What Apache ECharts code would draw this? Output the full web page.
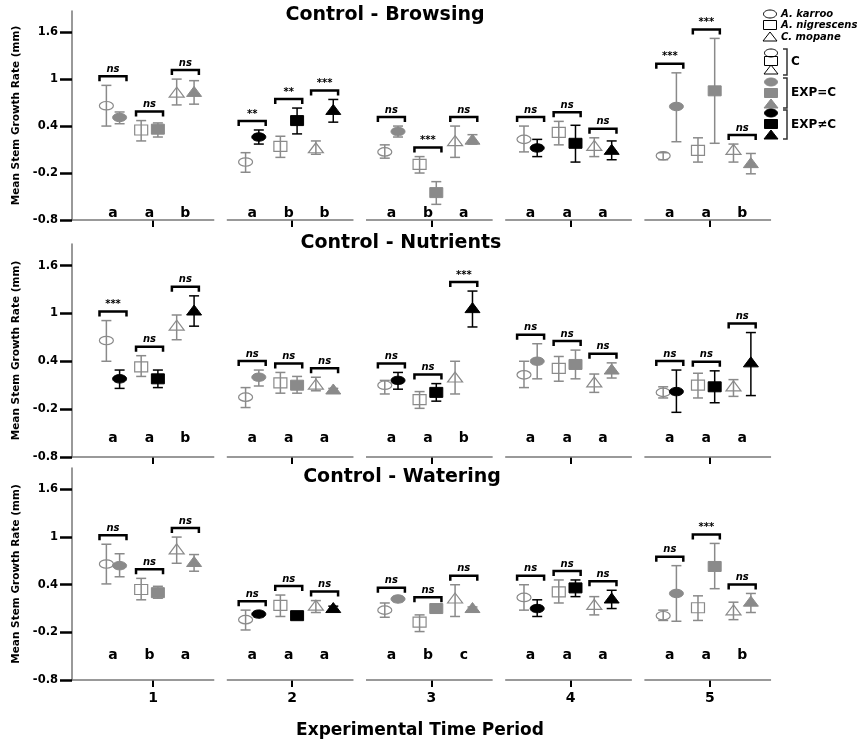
<!DOCTYPE html>
<html>
<head>
<meta charset="utf-8">
<script src="https://cdn.jsdelivr.net/npm/echarts@6/dist/echarts.min.js"></script>
<style>
  html, body { margin: 0; padding: 0; background: #fff; }
  #chart { width: 865px; height: 740px; }
</style>
</head>
<body>
<div id="chart"></div>
<script>
// ---- data ----
const periods = [1, 2, 3, 4, 5];
const speciesNames = ['A. karroo', 'A. nigrescens', 'C. mopane'];
const yTicks = [-0.8, -0.2, 0.4, 1, 1.6];

// Control - Browsing  (rows = period, cols = species)
const browsingCtrlMean = [[0.66, 0.35, 0.82], [-0.06, 0.14, 0.11], [0.07, -0.09, 0.20], [0.23, 0.32, 0.14], [0.02, 0.09, 0.09]];
const browsingCtrlHigh = [[0.92, 0.47, 1.00], [0.06, 0.27, 0.21], [0.16, 0.01, 0.40], [0.40, 0.46, 0.25], [0.06, 0.25, 0.17]];
const browsingCtrlLow = [[0.40, 0.21, 0.67], [-0.19, 0.00, 0.04], [-0.01, -0.20, 0.00], [0.07, 0.16, 0.01], [-0.03, -0.06, -0.06]];
const browsingExpMean = [[0.51, 0.36, 0.83], [0.26, 0.47, 0.60], [0.33, -0.45, 0.22], [0.12, 0.18, 0.09], [0.65, 0.85, -0.08]];
const browsingExpHigh = [[0.58, 0.44, 0.98], [0.35, 0.63, 0.74], [0.40, -0.31, 0.29], [0.23, 0.41, 0.21], [1.08, 1.52, 0.05]];
const browsingExpLow = [[0.43, 0.26, 0.68], [0.17, 0.30, 0.45], [0.26, -0.60, 0.17], [0.01, -0.06, -0.03], [0.20, 0.18, -0.21]];
const browsingSig = [['ns', 'ns', 'ns'], ['**', '**', '***'], ['ns', '***', 'ns'], ['ns', 'ns', 'ns'], ['***', '***', 'ns']];
const browsingLetters = [['a', 'a', 'b'], ['a', 'b', 'b'], ['a', 'b', 'a'], ['a', 'a', 'a'], ['a', 'a', 'b']];
const browsingExpEqualC = [true, false, true, false, true];

// Control - Nutrients
const nutrientsCtrlMean = [[0.66, 0.33, 0.84], [-0.05, 0.13, 0.10], [0.10, -0.08, 0.19], [0.23, 0.31, 0.13], [0.01, 0.10, 0.08]];
const nutrientsCtrlHigh = [[0.91, 0.47, 0.98], [0.07, 0.26, 0.20], [0.16, 0.02, 0.40], [0.40, 0.46, 0.24], [0.08, 0.25, 0.17]];
const nutrientsCtrlLow = [[0.40, 0.21, 0.67], [-0.18, 0.00, 0.03], [-0.01, -0.19, -0.01], [0.07, 0.15, 0.01], [-0.06, -0.06, -0.04]];
const nutrientsExpMean = [[0.18, 0.18, 1.03], [0.20, 0.10, 0.04], [0.16, 0.01, 1.06], [0.40, 0.36, 0.29], [0.02, 0.08, 0.38]];
const nutrientsExpHigh = [[0.29, 0.29, 1.22], [0.29, 0.21, 0.06], [0.26, 0.12, 1.28], [0.62, 0.54, 0.38], [0.29, 0.28, 0.76]];
const nutrientsExpLow = [[0.06, 0.07, 0.84], [0.09, 0.00, 0.02], [0.05, -0.10, 0.83], [0.18, 0.18, 0.19], [-0.24, -0.12, -0.03]];
const nutrientsSig = [['***', 'ns', 'ns'], ['ns', 'ns', 'ns'], ['ns', 'ns', '***'], ['ns', 'ns', 'ns'], ['ns', 'ns', 'ns']];
const nutrientsLetters = [['a', 'a', 'b'], ['a', 'a', 'a'], ['a', 'a', 'b'], ['a', 'a', 'a'], ['a', 'a', 'a']];
const nutrientsExpEqualC = [false, true, false, true, false];

// Control - Watering
const wateringCtrlMean = [[0.66, 0.34, 0.84], [-0.04, 0.14, 0.13], [0.08, -0.07, 0.22], [0.24, 0.31, 0.14], [0.01, 0.11, 0.07]];
const wateringCtrlHigh = [[0.91, 0.48, 1.00], [0.08, 0.27, 0.20], [0.17, 0.02, 0.40], [0.40, 0.46, 0.25], [0.08, 0.26, 0.18]];
const wateringCtrlLow = [[0.41, 0.21, 0.67], [-0.17, 0.00, 0.05], [-0.01, -0.19, 0.00], [0.08, 0.17, 0.02], [-0.05, -0.05, -0.04]];
const wateringExpMean = [[0.64, 0.30, 0.68], [0.03, 0.01, 0.10], [0.22, 0.10, 0.10], [0.10, 0.36, 0.22], [0.29, 0.63, 0.18]];
const wateringExpHigh = [[0.79, 0.38, 0.78], [0.06, 0.04, 0.13], [0.25, 0.13, 0.12], [0.21, 0.46, 0.33], [0.64, 0.92, 0.29]];
const wateringExpLow = [[0.50, 0.23, 0.57], [0.00, -0.02, 0.07], [0.19, 0.07, 0.07], [0.00, 0.25, 0.10], [-0.06, 0.35, 0.05]];
const wateringSig = [['ns', 'ns', 'ns'], ['ns', 'ns', 'ns'], ['ns', 'ns', 'ns'], ['ns', 'ns', 'ns'], ['ns', '***', 'ns']];
const wateringLetters = [['a', 'b', 'a'], ['a', 'a', 'a'], ['a', 'b', 'c'], ['a', 'a', 'a'], ['a', 'a', 'b']];
const wateringExpEqualC = [true, false, true, false, true];

const panels = [
  { title: 'Control - Browsing', ctrlMean: browsingCtrlMean, ctrlHigh: browsingCtrlHigh, ctrlLow: browsingCtrlLow,
    expMean: browsingExpMean, expHigh: browsingExpHigh, expLow: browsingExpLow,
    sig: browsingSig, letters: browsingLetters, expEqualC: browsingExpEqualC },
  { title: 'Control - Nutrients', ctrlMean: nutrientsCtrlMean, ctrlHigh: nutrientsCtrlHigh, ctrlLow: nutrientsCtrlLow,
    expMean: nutrientsExpMean, expHigh: nutrientsExpHigh, expLow: nutrientsExpLow,
    sig: nutrientsSig, letters: nutrientsLetters, expEqualC: nutrientsExpEqualC },
  { title: 'Control - Watering', ctrlMean: wateringCtrlMean, ctrlHigh: wateringCtrlHigh, ctrlLow: wateringCtrlLow,
    expMean: wateringExpMean, expHigh: wateringExpHigh, expLow: wateringExpLow,
    sig: wateringSig, letters: wateringLetters, expEqualC: wateringExpEqualC },
];

// ---- layout ----
const FONT = "'DejaVu Sans', 'Liberation Sans', Arial, sans-serif";
const GRAY = '#8a8a8a';
const X_MIN = 0.418, X_MAX = 5.418, Y_MIN = -0.8, Y_MAX = 1.87;
const panelLayout = [
  { top: 11, height: 209, letterY: -0.71, titleX: 385, titleY: 15 },
  { top: 244, height: 213, letterY: -0.57, titleX: 401, titleY: 243 },
  { top: 468, height: 216, letterY: -0.49, titleX: 402, titleY: 477 },
];
// dodge of the six markers inside one period (control/exp for each species)
const slotOffset = [-0.335, -0.24, -0.085, 0.035, 0.17, 0.295];

function renderPoint(params, api) {
  const x = api.value(0);
  const c = api.coord([x, api.value(1)]);
  const lo = api.coord([x, api.value(2)]);
  const hi = api.coord([x, api.value(3)]);
  const sp = api.value(4);
  const kind = api.value(5); // 0 control, 1 EXP=C, 2 EXP≠C
  const color = kind === 2 ? '#000' : GRAY;
  const cap = 5;
  const children = [
    { type: 'line', shape: { x1: c[0], y1: hi[1], x2: c[0], y2: lo[1] }, style: { stroke: color, lineWidth: 1.5 } },
    { type: 'line', shape: { x1: c[0] - cap, y1: hi[1], x2: c[0] + cap, y2: hi[1] }, style: { stroke: color, lineWidth: 1.5 } },
    { type: 'line', shape: { x1: c[0] - cap, y1: lo[1], x2: c[0] + cap, y2: lo[1] }, style: { stroke: color, lineWidth: 1.5 } },
  ];
  const markStyle = kind === 0
    ? { fill: 'none', stroke: color, lineWidth: 1.2 }
    : { fill: color, stroke: color, lineWidth: 1 };
  if (sp === 0) {
    children.push({ type: 'ellipse', shape: { cx: c[0], cy: c[1], rx: 7, ry: 4.2 }, style: markStyle });
  } else if (sp === 1) {
    children.push({ type: 'rect', shape: { x: c[0] - 6.5, y: c[1] - 5, width: 13, height: 10 }, style: markStyle });
  } else {
    children.push({ type: 'polygon', shape: { points: [[c[0], c[1] - 6], [c[0] + 7.5, c[1] + 4], [c[0] - 7.5, c[1] + 4]] }, style: markStyle });
  }
  return { type: 'group', children: children };
}

function makeRenderNote(panel, layout) {
  return function (params, api) {
    const x = api.value(0);
    const top = api.coord([x, api.value(1)]);
    const g = api.value(2), s = api.value(3);
    const by = top[1] - 9;
    const hw = 13.5;
    const letterPos = api.coord([x, layout.letterY]);
    return {
      type: 'group',
      children: [
        { type: 'polyline', shape: { points: [[top[0] - hw, by + 5], [top[0] - hw, by], [top[0] + hw, by], [top[0] + hw, by + 5]] },
          style: { stroke: '#000', lineWidth: 2.5, fill: 'none' } },
        { type: 'text', x: top[0], y: by - 2,
          style: { text: panel.sig[g][s], font: 'italic bold 10px ' + FONT, fill: '#000',
                   align: 'center', verticalAlign: 'bottom', textAlign: 'center', textVerticalAlign: 'bottom' } },
        { type: 'text', x: letterPos[0], y: letterPos[1],
          style: { text: panel.letters[g][s], font: 'bold 14px ' + FONT, fill: '#000',
                   align: 'center', verticalAlign: 'middle', textAlign: 'center', textVerticalAlign: 'middle' } },
      ],
    };
  };
}

function renderSegment(params, api) {
  const g = api.value(0);
  const a = api.coord([g === periods[0] ? X_MIN : g - 0.47, Y_MIN]);
  const b = api.coord([g + 0.44, Y_MIN]);
  return { type: 'line', shape: { x1: a[0], y1: a[1], x2: b[0], y2: b[1] }, style: { stroke: '#777', lineWidth: 1.5 } };
}

const grids = [], xAxes = [], yAxes = [], series = [], graphics = [];

panels.forEach(function (panel, i) {
  const L = panelLayout[i];
  grids.push({ left: 72, width: 696, top: L.top, height: L.height });
  xAxes.push({
    type: 'value', gridIndex: i, min: X_MIN, max: X_MAX,
    axisLine: { show: false, onZero: false },
    splitLine: { show: false },
    axisTick: { show: true, customValues: periods, length: 7, lineStyle: { color: '#000', width: 2 } },
    axisLabel: { show: i === 2, customValues: periods, margin: 11, color: '#000', fontFamily: FONT, fontWeight: 'bold', fontSize: 14 },
    name: i === 2 ? 'Experimental Time Period' : '',
    nameLocation: 'middle', nameGap: 42,
    nameTextStyle: { color: '#000', fontFamily: FONT, fontWeight: 'bold', fontSize: 17 },
  });
  yAxes.push({
    type: 'value', gridIndex: i, min: Y_MIN, max: Y_MAX,
    axisLine: { show: true, lineStyle: { color: '#777', width: 1.5 } },
    splitLine: { show: false },
    axisTick: { show: true, customValues: yTicks, length: 12, lineStyle: { color: '#000', width: 2.5 } },
    axisLabel: { customValues: yTicks, margin: 14, color: '#000', fontFamily: FONT, fontWeight: 'bold', fontSize: 11.5 },
    name: 'Mean Stem Growth Rate (mm)', nameLocation: 'middle', nameGap: 50,
    nameTextStyle: { color: '#000', fontFamily: FONT, fontWeight: 'bold', fontSize: 10.5 },
  });

  const pts = [], notes = [];
  periods.forEach(function (p, g) {
    for (let s = 0; s < 3; s++) {
      const xc = p + slotOffset[2 * s], xe = p + slotOffset[2 * s + 1];
      pts.push([xc, panel.ctrlMean[g][s], panel.ctrlLow[g][s], panel.ctrlHigh[g][s], s, 0]);
      pts.push([xe, panel.expMean[g][s], panel.expLow[g][s], panel.expHigh[g][s], s, panel.expEqualC[g] ? 1 : 2]);
      notes.push([(xc + xe) / 2, Math.max(panel.ctrlHigh[g][s], panel.expHigh[g][s]), g, s]);
    }
  });

  series.push({ type: 'custom', name: 'segments' + i, xAxisIndex: i, yAxisIndex: i, clip: false,
    renderItem: renderSegment, data: periods.map(function (p) { return [p, Y_MIN]; }), encode: { x: 0, y: 1 }, silent: true });
  series.push({ type: 'custom', name: 'points' + i, xAxisIndex: i, yAxisIndex: i, clip: false,
    renderItem: renderPoint, data: pts, encode: { x: 0, y: 1 }, silent: true });
  series.push({ type: 'custom', name: 'notes' + i, xAxisIndex: i, yAxisIndex: i, clip: false,
    renderItem: makeRenderNote(panel, L), data: notes, encode: { x: 0, y: 1 }, silent: true });

  graphics.push({ type: 'text', x: L.titleX, y: L.titleY,
    style: { text: panel.title, font: 'bold 19px ' + FONT, fill: '#000', textAlign: 'center', textVerticalAlign: 'middle' } });
});

// legend, drawn as plain shapes in the top-right corner
function legendShape(sp, cx, cy, style) {
  if (sp === 0) return { type: 'ellipse', shape: { cx: cx, cy: cy, rx: 6.5, ry: 4 }, style: style };
  if (sp === 1) return { type: 'rect', shape: { x: cx - 6.5, y: cy - 4.5, width: 13, height: 9 }, style: style };
  return { type: 'polygon', shape: { points: [[cx, cy - 5], [cx + 7, cy + 4], [cx - 7, cy + 4]] }, style: style };
}
const openStyle = { fill: 'none', stroke: '#000', lineWidth: 1 };
[14, 25, 37].forEach(function (y, s) {
  graphics.push(legendShape(s, 770, y, openStyle));
  graphics.push({ type: 'text', x: 781, y: y,
    style: { text: speciesNames[s], font: 'italic bold 10px ' + FONT, fill: '#000', textAlign: 'left', textVerticalAlign: 'middle' } });
});
const legendGroups = [
  { label: 'C', ys: [53, 61, 70], style: openStyle, span: [49, 75] },
  { label: 'EXP=C', ys: [82, 93, 104], style: { fill: GRAY, stroke: GRAY, lineWidth: 1 }, span: [78, 108] },
  { label: 'EXP\u2260C', ys: [113, 124, 135], style: { fill: '#000', stroke: '#000', lineWidth: 1 }, span: [110, 139] },
];
legendGroups.forEach(function (grp) {
  grp.ys.forEach(function (y, s) { graphics.push(legendShape(s, 771, y, grp.style)); });
  graphics.push({ type: 'polyline', shape: { points: [[783, grp.span[0]], [787, grp.span[0]], [787, grp.span[1]], [783, grp.span[1]]] },
    style: { stroke: '#333', lineWidth: 1.5, fill: 'none' } });
  graphics.push({ type: 'text', x: 791, y: (grp.span[0] + grp.span[1]) / 2,
    style: { text: grp.label, font: 'bold 12px ' + FONT, fill: '#000', textAlign: 'left', textVerticalAlign: 'middle' } });
});

const chart = echarts.init(document.getElementById('chart'), null, { renderer: 'canvas' });
chart.setOption({
  animation: false,
  backgroundColor: '#fff',
  grid: grids,
  xAxis: xAxes,
  yAxis: yAxes,
  series: series,
  graphic: graphics,
});
</script>
</body>
</html>
